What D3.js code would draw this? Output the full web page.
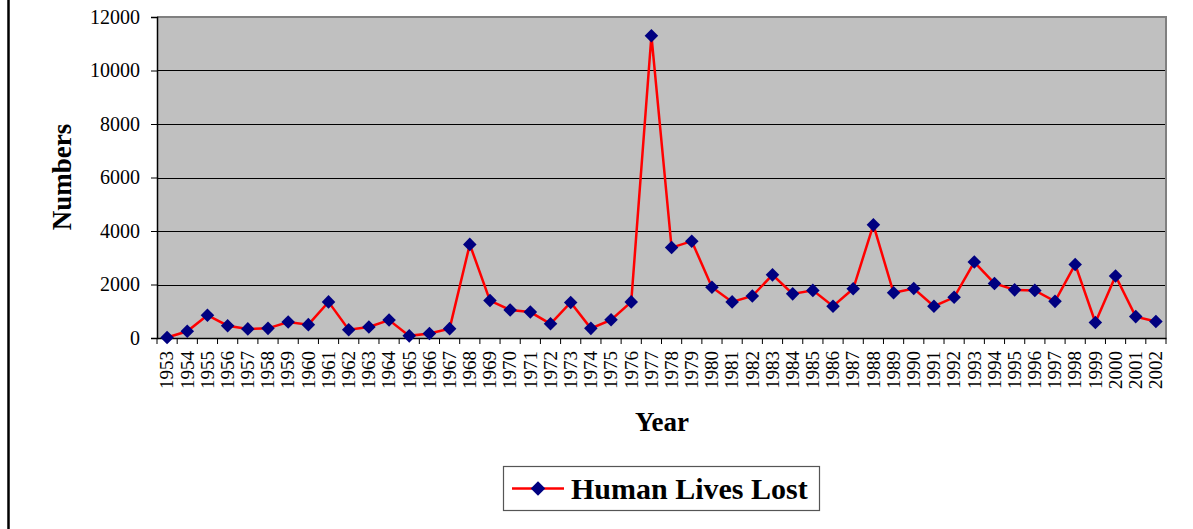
<!DOCTYPE html>
<html>
<head>
<meta charset="utf-8">
<script src="https://cdn.jsdelivr.net/npm/d3@7"></script>
<style>
  html, body { margin: 0; padding: 0; background: #fff; }
  svg { display: block; }
  text { font-family: "Liberation Serif", "Times New Roman", serif; fill: #000; }
</style>
</head>
<body>
<svg id="chart" width="1193" height="529"></svg>
<script>
const years = ["1953","1954","1955","1956","1957","1958","1959","1960","1961","1962",
  "1963","1964","1965","1966","1967","1968","1969","1970","1971","1972",
  "1973","1974","1975","1976","1977","1978","1979","1980","1981","1982",
  "1983","1984","1985","1986","1987","1988","1989","1990","1991","1992",
  "1993","1994","1995","1996","1997","1998","1999","2000","2001","2002"];
const livesLost = [20, 250, 850, 460, 340, 360, 600, 500, 1350, 310,
  410, 670, 80, 170, 350, 3500, 1400, 1050, 970, 530,
  1330, 360, 680, 1350, 11300, 3380, 3620, 1900, 1350, 1570,
  2360, 1650, 1780, 1190, 1840, 4230, 1690, 1850, 1190, 1520,
  2840, 2040, 1800, 1780, 1370, 2750, 580, 2320, 800, 620];
const yTicks = [0, 2000, 4000, 6000, 8000, 10000, 12000];
const seriesName = "Human Lives Lost";
const xTitle = "Year";
const yTitle = "Numbers";

const svg = d3.select("#chart");
const plot = { left: 157, right: 1166, top: 17, bottom: 338 };

// outer chart border (left edge visible)
svg.append("line").attr("x1", 8.5).attr("x2", 8.5).attr("y1", 0).attr("y2", 529)
  .attr("stroke", "#000").attr("stroke-width", 2.5);

const x = d3.scaleBand().domain(years).range([plot.left, plot.right]).padding(0);
const y = d3.scaleLinear().domain([0, 12000]).range([plot.bottom, plot.top]);

// plot background
svg.append("rect").attr("x", plot.left).attr("y", plot.top)
  .attr("width", plot.right - plot.left).attr("height", plot.bottom - plot.top)
  .attr("fill", "#C0C0C0");

// gridlines
svg.append("g").selectAll("line").data(yTicks.filter(d => d > 0 && d < 12000)).join("line")
  .attr("x1", plot.left).attr("x2", plot.right)
  .attr("y1", d => Math.round(y(d)) + 0.5).attr("y2", d => Math.round(y(d)) + 0.5)
  .attr("stroke", "#000").attr("stroke-width", 1);

// plot border top/right (gray)
svg.append("path")
  .attr("d", `M${plot.left},${plot.top} H${plot.right} V${plot.bottom}`)
  .attr("fill", "none").attr("stroke", "#808080").attr("stroke-width", 2);

// y axis
const yAxis = d3.axisLeft(y).tickValues(yTicks).tickSize(6).tickPadding(11).tickFormat(d3.format("d"));
const gy = svg.append("g").attr("transform", `translate(${plot.left},0)`).call(yAxis);
gy.select(".domain").attr("stroke", "#000").attr("stroke-width", 1.5);
gy.selectAll(".tick line").attr("stroke", "#000");
gy.selectAll(".tick text").attr("font-size", 20).attr("font-family", "Liberation Serif").attr("fill", "#000");

// x axis
const xAxis = d3.axisBottom(x).tickSize(0).tickPadding(0);
const gx = svg.append("g").attr("transform", `translate(0,${plot.bottom})`).call(xAxis);
gx.select(".domain").attr("stroke", "#000").attr("stroke-width", 1.5);
gx.selectAll(".tick text")
  .attr("font-size", 19).attr("font-family", "Liberation Serif").attr("fill", "#000")
  .attr("transform", "rotate(-90)")
  .attr("text-anchor", "end")
  .attr("x", -13).attr("y", 0).attr("dy", "0.33em");
// tick marks at band boundaries
const bounds = years.map(d => x(d)).concat([x(years[years.length - 1]) + x.bandwidth()]);
gx.append("g").selectAll("line").data(bounds).join("line")
  .attr("x1", d => d).attr("x2", d => d).attr("y1", 0).attr("y2", 6)
  .attr("stroke", "#000").attr("stroke-width", 1);

// line
const cx = d => x(d) + x.bandwidth() / 2;
const data = years.map((yr, i) => ({ yr, v: livesLost[i] }));
svg.append("path").datum(data)
  .attr("d", d3.line().x(d => cx(d.yr)).y(d => y(d.v)))
  .attr("fill", "none").attr("stroke", "#FF0000").attr("stroke-width", 2.5);

const diamond = d3.symbol().type(d3.symbolDiamond2 || d3.symbolDiamond).size(95);
svg.append("g").selectAll("path").data(data).join("path")
  .attr("transform", d => `translate(${cx(d.yr)},${y(d.v)}) rotate(45)`)
  .attr("d", d3.symbol().type(d3.symbolSquare).size(92))
  .attr("fill", "#000080");

// axis titles
svg.append("text").attr("transform", "translate(71,177) rotate(-90)")
  .attr("text-anchor", "middle").attr("font-size", 27).attr("font-weight", "bold").text(yTitle);
svg.append("text").attr("x", 662).attr("y", 431)
  .attr("text-anchor", "middle").attr("font-size", 27).attr("font-weight", "bold").text(xTitle);

// legend
const lg = svg.append("g");
lg.append("rect").attr("x", 503.5).attr("y", 466.5).attr("width", 316).attr("height", 44)
  .attr("fill", "#fff").attr("stroke", "#555").attr("stroke-width", 1.2);
lg.append("line").attr("x1", 512).attr("x2", 564).attr("y1", 488.5).attr("y2", 488.5)
  .attr("stroke", "#FF0000").attr("stroke-width", 2.5);
lg.append("path").attr("transform", "translate(538,488.5) rotate(45)")
  .attr("d", d3.symbol().type(d3.symbolSquare).size(105)).attr("fill", "#000080");
lg.append("text").attr("x", 571).attr("y", 499).attr("font-size", 30).attr("font-weight", "bold").text(seriesName);
</script>
</body>
</html>
